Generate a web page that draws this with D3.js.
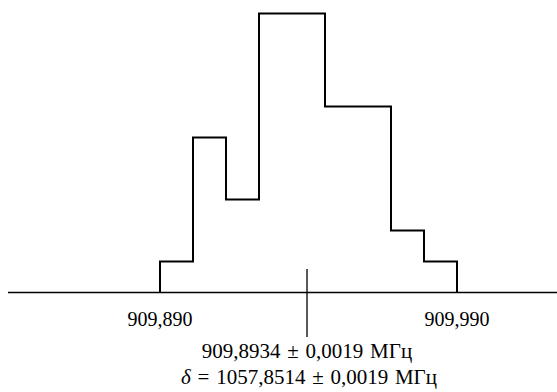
<!DOCTYPE html>
<html>
<head>
<meta charset="utf-8">
<script src="https://cdn.jsdelivr.net/npm/d3@7"></script>
<style>
  html, body { margin: 0; padding: 0; background: #fff; }
  svg { display: block; font-family: "Liberation Serif", "Times New Roman", serif; }
</style>
</head>
<body>
<svg id="chart" width="557" height="392"></svg>
<script>
// histogram data
const binStart = 909.890
const binEnd = 909.990
const counts = [1, 5, 3, 9, 9, 6, 6, 2, 1]
const tickValues = [909.890, 909.990]
const tickLabels = ["909,890", "909,990"]
const markValue = 909.9395
const resultLine = "909,8934 ± 0,0019 МГц"
const deltaLine = "= 1057,8514 ± 0,0019 МГц"

const WIDTH = 557
const BASE_Y = 292.5
const FONT = 21

let svg = d3.select("#chart")

let xScale = d3.scaleLinear()
  .domain([binStart, binEnd])
  .range([160, 457])

let yScale = d3.scaleLinear()
  .domain([0, d3.max(counts)])
  .range([BASE_Y, 13.5])

let binWidth = (binEnd - binStart) / counts.length
let bins = counts.map((c, i) => ({x0: binStart + i * binWidth, x1: binStart + (i + 1) * binWidth, n: c}))

// baseline
svg.append("line")
  .attr("x1", 8).attr("x2", WIDTH)
  .attr("y1", BASE_Y).attr("y2", BASE_Y)
  .attr("stroke", "#000")
  .attr("stroke-width", 1.4)

// step outline
let pts = [[bins[0].x0, 0]]
bins.forEach(b => {
  pts.push([b.x0, b.n])
  pts.push([b.x1, b.n])
})
pts.push([bins[bins.length - 1].x1, 0])

svg.append("path")
  .attr("d", d3.line().x(d => xScale(d[0])).y(d => yScale(d[1]))(pts))
  .attr("fill", "none")
  .attr("stroke", "#000")
  .attr("stroke-width", 2)
  .attr("stroke-linejoin", "miter")

// tick labels
svg.selectAll(".tick-label")
  .data(tickValues)
  .join("text")
  .attr("class", "tick-label")
  .attr("x", d => xScale(d))
  .attr("y", 325.5)
  .attr("text-anchor", "middle")
  .attr("font-size", 20)
  .text((d, i) => tickLabels[i])

// marker of the mean
svg.append("line")
  .attr("x1", xScale(markValue)).attr("x2", xScale(markValue))
  .attr("y1", 269).attr("y2", 337)
  .attr("stroke", "#000")
  .attr("stroke-width", 1.3)

svg.append("text")
  .attr("x", xScale(markValue))
  .attr("y", 358)
  .attr("text-anchor", "middle")
  .attr("font-size", FONT)
  .attr("word-spacing", 1.5)
  .text(resultLine)

let t = svg.append("text")
  .attr("x", xScale(markValue) + 2)
  .attr("y", 384)
  .attr("text-anchor", "middle")
  .attr("font-size", FONT)
  .attr("word-spacing", 1.5)
t.append("tspan").attr("font-style", "italic").text("δ")
t.append("tspan").text(" " + deltaLine)
</script>
</body>
</html>
